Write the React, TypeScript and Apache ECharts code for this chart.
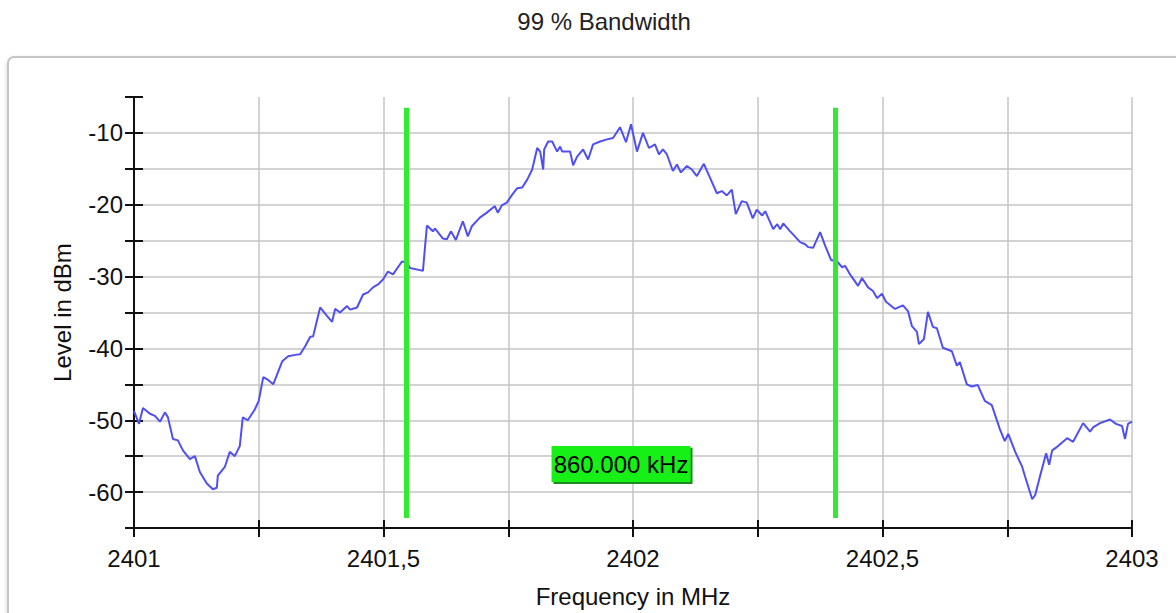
import React, { useEffect, useRef } from "react";
import * as echarts from "echarts";

const titleText = "99 % Bandwidth";
const xAxisName = "Frequency in MHz";
const yAxisName = "Level in dBm";

const freqMHz = [
  2401.000, 2401.010, 2401.018, 2401.032, 2401.042, 2401.052, 2401.062, 2401.068, 2401.078, 2401.088,
  2401.098, 2401.112, 2401.122, 2401.132, 2401.146, 2401.158, 2401.166, 2401.168, 2401.182, 2401.192,
  2401.202, 2401.212, 2401.218, 2401.228, 2401.242, 2401.250, 2401.259, 2401.267, 2401.279, 2401.297,
  2401.309, 2401.323, 2401.333, 2401.343, 2401.353, 2401.359, 2401.373, 2401.387, 2401.397, 2401.403,
  2401.413, 2401.427, 2401.433, 2401.447, 2401.459, 2401.469, 2401.479, 2401.489, 2401.499, 2401.509,
  2401.519, 2401.537, 2401.547, 2401.553, 2401.573, 2401.579, 2401.587, 2401.599, 2401.603, 2401.619,
  2401.627, 2401.635, 2401.645, 2401.659, 2401.669, 2401.677, 2401.693, 2401.707, 2401.723, 2401.729,
  2401.737, 2401.747, 2401.758, 2401.768, 2401.778, 2401.788, 2401.798, 2401.808, 2401.814, 2401.820,
  2401.822, 2401.830, 2401.838, 2401.848, 2401.854, 2401.858, 2401.874, 2401.880, 2401.888, 2401.900,
  2401.910, 2401.920, 2401.934, 2401.948, 2401.960, 2401.974, 2401.986, 2401.996, 2402.008, 2402.020,
  2402.032, 2402.044, 2402.052, 2402.060, 2402.068, 2402.080, 2402.088, 2402.096, 2402.108, 2402.118,
  2402.128, 2402.142, 2402.154, 2402.168, 2402.178, 2402.188, 2402.198, 2402.206, 2402.218, 2402.228,
  2402.240, 2402.248, 2402.259, 2402.265, 2402.281, 2402.289, 2402.295, 2402.301, 2402.315, 2402.335,
  2402.345, 2402.351, 2402.361, 2402.375, 2402.385, 2402.397, 2402.409, 2402.419, 2402.425, 2402.435,
  2402.451, 2402.459, 2402.471, 2402.481, 2402.489, 2402.499, 2402.507, 2402.525, 2402.541, 2402.551,
  2402.559, 2402.569, 2402.573, 2402.583, 2402.591, 2402.601, 2402.609, 2402.621, 2402.639, 2402.649,
  2402.655, 2402.669, 2402.679, 2402.691, 2402.705, 2402.719, 2402.735, 2402.745, 2402.752, 2402.766,
  2402.780, 2402.786, 2402.800, 2402.806, 2402.816, 2402.828, 2402.834, 2402.840, 2402.850, 2402.870,
  2402.882, 2402.902, 2402.916, 2402.922, 2402.936, 2402.956, 2402.968, 2402.980, 2402.986, 2402.992,
  2403.000,
];

const levelDbm = [
  -48.7, -50.5, -48.3, -49.1, -49.4, -50.2, -48.9, -49.6, -52.6, -52.8,
  -54.2, -55.4, -55.0, -57.2, -58.8, -59.6, -59.4, -57.7, -56.5, -54.4,
  -55.0, -53.6, -49.6, -50.0, -48.5, -47.3, -44.0, -44.3, -45.0, -41.8,
  -41.1, -40.9, -40.8, -39.7, -38.4, -38.3, -34.3, -35.5, -36.3, -34.5,
  -35.0, -34.1, -34.6, -34.3, -32.5, -32.2, -31.5, -31.1, -30.4, -29.3,
  -29.7, -27.9, -28.0, -28.8, -29.1, -29.2, -22.9, -23.7, -23.3, -24.7,
  -24.8, -23.7, -24.9, -22.3, -24.4, -23.0, -21.8, -21.1, -20.2, -21.1,
  -20.1, -19.7, -18.6, -17.7, -17.6, -16.5, -15.1, -12.1, -12.6, -15.1,
  -12.3, -11.2, -11.2, -12.6, -11.9, -12.6, -12.6, -14.5, -13.3, -12.3,
  -13.7, -11.6, -11.2, -10.9, -10.7, -9.2, -11.3, -8.8, -12.6, -10.0,
  -12.1, -11.6, -13.0, -12.3, -13.0, -15.3, -14.4, -15.5, -14.6, -15.1,
  -16.0, -14.3, -16.2, -18.4, -18.1, -18.7, -17.9, -21.3, -19.5, -19.7,
  -21.9, -20.7, -21.5, -20.9, -23.4, -22.7, -23.4, -22.6, -23.7, -25.2,
  -25.5, -25.9, -26.0, -23.8, -25.7, -27.7, -27.9, -28.7, -28.5, -29.7,
  -31.3, -30.2, -31.5, -32.0, -33.0, -32.4, -33.5, -34.5, -34.0, -34.8,
  -36.9, -37.7, -39.4, -38.7, -34.9, -37.0, -37.2, -39.9, -40.4, -42.4,
  -41.9, -45.0, -45.3, -45.1, -47.3, -47.9, -51.2, -52.9, -51.9, -54.4,
  -56.5, -57.9, -61.0, -60.4, -57.7, -54.6, -56.2, -54.2, -53.7, -52.5,
  -53.0, -50.4, -51.6, -51.0, -50.4, -49.9, -50.5, -50.8, -52.6, -50.5,
  -50.2,
];

// 99 % bandwidth edges (MHz) and marker extents (dBm)
const bandEdges = [2401.546, 2402.406];
const markerTop = -6.5;
const markerBottom = -63.6;
const bandwidthLabel = "860.000 kHz";
const bandwidthLabelLevel = -56.1;

const xMin = 2401;
const xMax = 2403;
const xStep = 0.25;
const yMin = -65;
const yMax = -5;
const yStep = 5;

const FONT = "'Liberation Sans', Arial, sans-serif";

export default function App() {
  const ref = useRef<HTMLDivElement>(null);

  useEffect(() => {
    if (!ref.current) return;
    const chart = echarts.init(ref.current, undefined, { renderer: "svg" });
    const data = freqMHz.map((f, i) => [f, levelDbm[i]]);
    const mid = (bandEdges[0] + bandEdges[1]) / 2;

    const xLabelFmt = (v: number) => {
      const q = Math.round((v - xMin) / xStep);
      if (q % 2 !== 0) return "";
      return String(Math.round(v * 100) / 100).replace(".", ",");
    };
    const yLabelFmt = (v: number) => (Math.round(v) % 10 === 0 ? String(Math.round(v)) : "");

    chart.setOption({
      animation: false,
      backgroundColor: "#ffffff",
      textStyle: { fontFamily: FONT },
      graphic: [
        {
          type: "rect",
          z: -10,
          silent: true,
          shape: { x: 8, y: 57, width: 1220, height: 620, r: 6 },
          style: {
            fill: "#ffffff",
            stroke: "#c6c6c6",
            lineWidth: 2,
            shadowBlur: 4,
            shadowColor: "rgba(0,0,0,0.18)",
            shadowOffsetY: 2,
          },
        },
        {
          type: "text",
          x: 604,
          y: 9,
          style: {
            text: titleText,
            align: "center",
            verticalAlign: "top",
            fontSize: 24,
            fontFamily: FONT,
            fill: "#222222",
          },
        },
      ],
      grid: { left: 134, right: 44, top: 97, bottom: 83 },
      xAxis: [
        {
          type: "value",
          position: "bottom",
          min: xMin,
          max: xMax,
          interval: xStep,
          name: xAxisName,
          nameLocation: "middle",
          nameGap: 56,
          nameTextStyle: { fontSize: 24, color: "#111111", fontFamily: FONT },
          axisLine: { show: true, onZero: false, lineStyle: { color: "#111111", width: 2 } },
          axisTick: { show: true, inside: false, length: 9, lineStyle: { color: "#111111", width: 2 } },
          axisLabel: {
            show: true,
            margin: 18,
            fontSize: 24,
            color: "#111111",
            fontFamily: FONT,
            formatter: xLabelFmt,
          },
          splitLine: { show: true, lineStyle: { color: "#c4c4c4", width: 1.5 } },
        },
        {
          type: "value",
          position: "bottom",
          min: xMin,
          max: xMax,
          interval: xStep,
          axisLine: { show: false, onZero: false },
          axisTick: { show: true, inside: true, length: 8, lineStyle: { color: "#111111", width: 2 } },
          axisLabel: { show: false },
          splitLine: { show: false },
        },
      ],
      yAxis: [
        {
          type: "value",
          position: "left",
          min: yMin,
          max: yMax,
          interval: yStep,
          name: yAxisName,
          nameLocation: "middle",
          nameGap: 60,
          nameRotate: 90,
          nameTextStyle: { fontSize: 24, color: "#111111", fontFamily: FONT },
          axisLine: { show: true, onZero: false, lineStyle: { color: "#111111", width: 2 } },
          axisTick: { show: true, inside: false, length: 9, lineStyle: { color: "#111111", width: 2 } },
          axisLabel: {
            show: true,
            margin: 11,
            fontSize: 24,
            color: "#111111",
            fontFamily: FONT,
            formatter: yLabelFmt,
          },
          splitLine: {
            show: true,
            showMaxLine: false,
            lineStyle: { color: "#c4c4c4", width: 1.5 },
          },
        },
        {
          type: "value",
          position: "left",
          min: yMin,
          max: yMax,
          interval: yStep,
          axisLine: { show: false, onZero: false },
          axisTick: { show: true, inside: true, length: 9, lineStyle: { color: "#111111", width: 2 } },
          axisLabel: { show: false },
          splitLine: { show: false },
        },
      ],
      series: [
        {
          type: "line",
          xAxisIndex: 0,
          yAxisIndex: 0,
          data,
          showSymbol: false,
          symbol: "none",
          lineStyle: { color: "#5050f0", width: 2 },
          z: 3,
          markLine: {
            silent: true,
            symbol: ["none", "none"],
            label: { show: false },
            lineStyle: { color: "#33ea33", width: 5, type: "solid" },
            data: bandEdges.map((f) => [
              { coord: [f, markerTop] },
              { coord: [f, markerBottom] },
            ]),
          },
          markPoint: {
            silent: true,
            data: [
              {
                coord: [mid, bandwidthLabelLevel],
                symbol: "rect",
                symbolSize: [139, 36],
                itemStyle: {
                  color: "#16f016",
                  shadowColor: "#1a8a1a",
                  shadowOffsetX: 2,
                  shadowOffsetY: 2,
                  shadowBlur: 0,
                },
                label: {
                  show: true,
                  position: "inside",
                  formatter: bandwidthLabel,
                  color: "#000000",
                  fontSize: 24,
                  fontFamily: FONT,
                },
              },
            ],
          },
        },
      ],
    });

    return () => chart.dispose();
  }, []);

  return (
    <div
      ref={ref}
      style={{ position: "absolute", left: 0, top: 0, width: 1176, height: 613 }}
    />
  );
}
